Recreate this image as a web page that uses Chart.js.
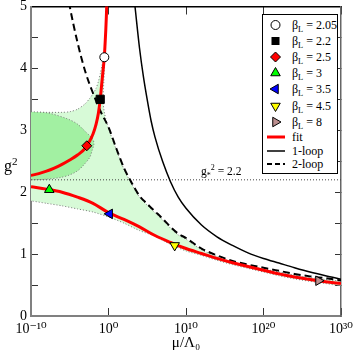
<!DOCTYPE html>
<html>
<head>
<meta charset="utf-8">
<title>running coupling</title>
<script src="https://cdn.jsdelivr.net/npm/chart.js@4.4.1/dist/chart.umd.min.js"></script>
<style>
  html, body { margin: 0; padding: 0; background: #fff; }
  #wrap { position: relative; width: 353px; height: 356px; font-family: "Liberation Serif", "DejaVu Serif", serif; color: #000; }
  #chart { position: absolute; left: 0; top: 0; }
  .note { position: absolute; white-space: nowrap; line-height: 1; }
  .note sup, .note sub { font-size: 70%; line-height: 0; }
  #legend { position: absolute; left: 262px; top: 14px; width: 74px; height: 158px; border: 1px solid #000; background: #fff; }
  .row { position: absolute; left: 0; width: 74px; height: 16px; }
  .row svg { position: absolute; left: 0; top: 0; }
  .row span { position: absolute; left: 29px; top: 1px; font-size: 12px; line-height: 14px; white-space: nowrap; }
  .row sub { font-size: 70%; line-height: 0; }
</style>
</head>
<body>
<div id="wrap">
  <canvas id="chart" width="353" height="356"></canvas>
  <div class="note" style="left:4px;top:158px;font-size:16px">g<sup>2</sup></div>
  <div class="note" style="left:201px;top:166px;font-size:11.5px">g<sub>*</sub><sup>2</sup> = 2.2</div>
  <div id="legend"></div>
</div>
<script>
// x values are log10(mu/Lambda_0), y values are g^2
const xTicks = [-10, 0, 10, 20, 30];
const yTicks = [0, 0.5, 1, 1.5, 2, 2.5, 3, 3.5, 4, 4.5, 5];

// lattice points
const betaL = ['2.05', '2.2', '2.5', '3', '3.5', '4.5', '8'];
const betaT = [-0.54, -1.07, -2.8, -7.64, 0.15, 8.54, 27.1];
const betaG2 = [4.18, 3.50, 2.75, 2.04, 1.65, 1.14, 0.57];

// fit, strong coupling branch
const fitUpT = [-10, -9, -8, -7, -6, -5, -4, -3, -2.5, -2, -1.6, -1.3, -1.07, -0.85, -0.7, -0.54, -0.44, -0.35, -0.28, -0.22];
const fitUpG2 = [2.27, 2.30, 2.34, 2.39, 2.45, 2.52, 2.60, 2.71, 2.81, 2.94, 3.10, 3.28, 3.50, 3.78, 3.97, 4.18, 4.40, 4.62, 4.83, 5.05];

// fit, weak coupling branch
const fitLoT = [-10, -8, -6, -4, -2, 0, 2, 4, 6, 8, 10, 12, 14, 16, 18, 20, 22, 24, 26, 28, 30];
const fitLoG2 = [2.09, 2.05, 2.00, 1.92, 1.82, 1.67, 1.56, 1.44, 1.30, 1.19, 1.09, 1.01, 0.93, 0.86, 0.80, 0.74, 0.68, 0.63, 0.59, 0.555, 0.525];

// perturbation theory
const oneLoopT = [3.35, 3.42, 4, 4.5, 5, 5.5, 6, 7, 8, 9, 10, 12, 14, 16, 18, 20, 22, 24, 26, 28, 30];
const oneLoopG2 = [5.08, 5.0, 4.33, 3.87, 3.49, 3.15, 2.89, 2.49, 2.17, 1.92, 1.74, 1.47, 1.28, 1.14, 1.02, 0.93, 0.855, 0.78, 0.71, 0.65, 0.595];
const twoLoopT = [-5.1, -5, -4, -3, -2, -1, 0, 1, 2, 3, 4, 5, 6, 7, 8, 9, 10, 12, 14, 16, 18, 20, 22, 24, 26, 28, 30];
const twoLoopG2 = [5.07, 5.0, 4.42, 3.95, 3.60, 3.30, 3.05, 2.71, 2.39, 2.15, 1.94, 1.81, 1.69, 1.57, 1.44, 1.33, 1.26, 1.09, 0.98, 0.89, 0.83, 0.78, 0.73, 0.68, 0.64, 0.61, 0.575];

// g*^2 line
const gStarT = [-10, 30];
const gStarG2 = [2.2, 2.2];

// error bands (outlines)
const lightT = [-10, -8, -6, -5, -4, -3, -2.4, -2.0, -1.6, -1.3, -1.05, -0.85, -0.72,
  -0.52, -0.6, -0.71, -0.49, 0, 1, 2, 3, 4, 5, 6, 7, 8, 9, 10, 12, 14, 16, 18, 20, 22, 24, 26, 28, 30,
  30, 28, 26, 24, 22, 20, 18, 16, 14, 12, 10, 8.5, 7, 6, 4, 2, 0, -2, -4, -6, -8, -10];
const lightG2 = [3.29, 3.29, 3.29, 3.30, 3.34, 3.43, 3.52, 3.59, 3.68, 3.79, 3.92, 4.05, 4.15,
  4.1, 3.8, 3.47, 3.26, 3.03, 2.69, 2.37, 2.13, 1.92, 1.79, 1.67, 1.55, 1.42, 1.31, 1.24, 1.07, 0.96, 0.87, 0.81, 0.76, 0.71, 0.66, 0.62, 0.59, 0.555,
  0.495, 0.525, 0.56, 0.60, 0.65, 0.71, 0.77, 0.83, 0.90, 0.98, 1.05, 1.13, 1.22, 1.29, 1.38, 1.50, 1.60, 1.68, 1.73, 1.78, 1.82, 1.86];
const darkT = [-10, -7.8, -5.2, -4, -3.07, -2.4, -2.0, -1.88, -2.1, -2.43, -3.2, -3.94, -5, -6.1, -8, -10];
const darkG2 = [3.30, 3.28, 3.18, 3.10, 2.99, 2.91, 2.85, 2.78, 2.68, 2.56, 2.44, 2.35, 2.28, 2.24, 2.21, 2.20];

// marker looks
const markerStyle = ['circle', 'rect', 'rectRot', 'triangle', 'triangle', 'triangle', 'triangle'];
const markerFill = ['#ffffff', '#000000', '#ff0000', '#00ff00', '#0000ff', '#ffff00', '#bc8f8f'];
const markerRot = [0, 0, 0, 0, -90, 180, 90];
const markerSize = [4.5, 5.8, 5, 5.5, 5.5, 5.5, 5.5];

const pts = (xs, ys) => xs.map((x, i) => ({x: x, y: ys[i]}));
const serif = '"Liberation Serif", "DejaVu Serif", serif';
const supMap = {'0': '⁰', '1': '¹', '2': '²', '3': '³', '4': '⁴', '5': '⁵', '6': '⁶', '7': '⁷', '8': '⁸', '9': '⁹', '-': '⁻'};
const sup = v => String(v).split('').map(c => supMap[c] || c).join('');

// fix the box sizes so the plot area sits where it does in the original
const fixBox = (w, h) => s => {
    if (w != null) s.width = w;
    if (h != null) s.height = h;
    s.paddingLeft = s.paddingRight = s.paddingTop = s.paddingBottom = 0;
};

const line = (label, xs, ys, extra) => Object.assign({
    label: label,
    data: pts(xs, ys),
    showLine: true,
    pointRadius: 0,
    fill: false,
    borderWidth: 1
}, extra);

const chart = new Chart(document.getElementById('chart').getContext('2d'), {
    type: 'line',
    data: {
        datasets: [
            {
                label: 'beta_L',
                data: pts(betaT, betaG2),
                showLine: false,
                pointStyle: markerStyle,
                pointRadius: markerSize,
                pointRotation: markerRot,
                pointBackgroundColor: markerFill,
                pointBorderColor: '#000',
                pointBorderWidth: 1
            },
            line('fit', fitUpT, fitUpG2, {borderColor: '#ff0000', borderWidth: 3, cubicInterpolationMode: 'monotone'}),
            line('fit2', fitLoT, fitLoG2, {borderColor: '#ff0000', borderWidth: 3, cubicInterpolationMode: 'monotone'}),
            line('1-loop', oneLoopT, oneLoopG2, {borderColor: '#000', borderWidth: 1.5, cubicInterpolationMode: 'monotone'}),
            line('2-loop', twoLoopT, twoLoopG2, {borderColor: '#000', borderWidth: 2, borderDash: [7, 4], cubicInterpolationMode: 'monotone'}),
            line('g*', gStarT, gStarG2, {borderColor: '#444', borderDash: [1, 2]}),
            line('band1', darkT, darkG2, {borderColor: '#777', borderDash: [1, 2], backgroundColor: '#a2f0a2', fill: 'shape', tension: 0.3}),
            line('band2', lightT, lightG2, {borderColor: '#777', borderDash: [1, 2], backgroundColor: '#d7fad7', fill: 'shape', tension: 0.25})
        ]
    },
    options: {
        responsive: false,
        animation: false,
        events: [],
        layout: {padding: 0},
        plugins: {legend: {display: false}, tooltip: {enabled: false}},
        scales: {
            x: {
                type: 'linear', position: 'bottom', min: -10, max: 30,
                afterBuildTicks: s => { s.ticks = xTicks.map(v => ({value: v})); },
                afterFit: fixBox(null, 40),
                border: {color: '#808080', width: 2},
                grid: {drawOnChartArea: false, tickLength: -8, tickColor: '#333'},
                ticks: {autoSkip: false, maxRotation: 0, padding: 13, color: '#000',
                    font: {family: serif, size: 14}, callback: v => '10' + sup(v)},
                title: {display: true, text: 'μ/Λ₀', color: '#000', font: {family: serif, size: 15}}
            },
            x2: {
                type: 'linear', position: 'top', min: -10, max: 30,
                afterBuildTicks: s => { s.ticks = xTicks.map(v => ({value: v})); },
                afterFit: fixBox(null, 5),
                border: {color: '#000', width: 1.5},
                grid: {drawOnChartArea: false, tickLength: -8, tickColor: '#333'},
                ticks: {display: false}
            },
            y: {
                type: 'linear', position: 'left', min: 0, max: 5,
                afterBuildTicks: s => { s.ticks = yTicks.map(v => ({value: v})); },
                afterFit: fixBox(31, null),
                border: {color: '#808080', width: 2},
                grid: {drawOnChartArea: false, tickLength: -7, tickColor: '#333'},
                ticks: {padding: 11, color: '#000', font: {family: serif, size: 14},
                    callback: v => (v % 1 === 0 ? String(v) : '')}
            },
            y2: {
                type: 'linear', position: 'right', min: 0, max: 5,
                afterBuildTicks: s => { s.ticks = yTicks.map(v => ({value: v})); },
                afterFit: fixBox(12, null),
                border: {color: '#666', width: 1.5},
                grid: {drawOnChartArea: false, tickLength: -6, tickColor: '#333'},
                ticks: {display: false}
            }
        }
    }
});

// legend box, built by hand so it can sit inside the plot like the original
function markerSvg(i) {
    const fill = markerFill[i], cx = 12.5, cy = 8;
    let shape;
    if (markerStyle[i] === 'circle') {
        shape = `<circle cx="${cx}" cy="${cy}" r="4.5" fill="${fill}" stroke="#000"/>`;
    } else if (markerStyle[i] === 'rect') {
        shape = `<rect x="${cx - 4}" y="${cy - 4}" width="8" height="8" fill="${fill}"/>`;
    } else if (markerStyle[i] === 'rectRot') {
        shape = `<polygon points="${cx},${cy - 5} ${cx + 5},${cy} ${cx},${cy + 5} ${cx - 5},${cy}" fill="${fill}" stroke="#000"/>`;
    } else {
        const p = [0, 120, 240].map(a => {
            const r = (a + markerRot[i]) * Math.PI / 180;
            return (cx + Math.sin(r) * 5.5).toFixed(2) + ',' + (cy - Math.cos(r) * 5.5).toFixed(2);
        });
        shape = `<polygon points="${p.join(' ')}" fill="${fill}" stroke="#000"/>`;
    }
    return `<svg width="26" height="16">${shape}</svg>`;
}
function lineSvg(color, width, dash) {
    return `<svg width="26" height="16"><line x1="4" y1="8" x2="22" y2="8" stroke="${color}" stroke-width="${width}"${dash ? ` stroke-dasharray="${dash}"` : ''}/></svg>`;
}
const legendRows = betaL.map((b, i) => ({svg: markerSvg(i), html: 'β<sub>L</sub> = ' + b}))
    .concat([
        {svg: lineSvg('#ff0000', 3, ''), html: 'fit'},
        {svg: lineSvg('#000', 1.5, ''), html: '1-loop'},
        {svg: lineSvg('#000', 2, '5,3'), html: '2-loop'}
    ]);
const rowCenters = [10, 26, 42, 58, 74, 91, 107, 122, 135.5, 149];
const legendEl = document.getElementById('legend');
legendRows.forEach((r, i) => {
    const div = document.createElement('div');
    div.className = 'row';
    div.style.top = (rowCenters[i] - 8) + 'px';
    div.innerHTML = r.svg + '<span>' + r.html + '</span>';
    legendEl.appendChild(div);
});
</script>
</body>
</html>
